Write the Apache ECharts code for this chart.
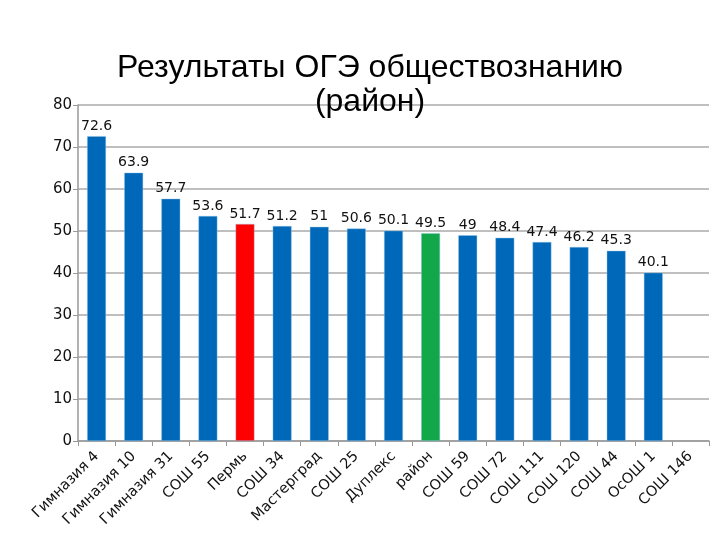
<!DOCTYPE html>
<html>
<head>
<meta charset="utf-8">
<script src="https://cdn.jsdelivr.net/npm/echarts@6/dist/echarts.min.js"></script>
<style>
  html, body { margin: 0; padding: 0; background: #fff; }
  #main { width: 720px; height: 540px; }
</style>
</head>
<body>
<div id="main"></div>
<script>
// данные диаграммы
const schools = ['Гимназия 4', 'Гимназия 10', 'Гимназия 31', 'СОШ 55', 'Пермь', 'СОШ 34', 'Мастерград',
  'СОШ 25', 'Дуплекс', 'район', 'СОШ 59', 'СОШ 72', 'СОШ 111', 'СОШ 120', 'СОШ 44', 'ОсОШ 1', 'СОШ 146']
const scores = [72.6, 63.9, 57.7, 53.6, 51.7, 51.2, 51, 50.6, 50.1, 49.5, 49, 48.4, 47.4, 46.2, 45.3, 40.1, null]
const yTicks = [0, 10, 20, 30, 40, 50, 60, 70, 80]

// цвета: Пермь красным, район зелёным
const colorOf = name => name === 'Пермь' ? '#FF0000' : name === 'район' ? '#12A84A' : '#0068B8'

const myChart = echarts.init(document.getElementById('main'))

const option = {
  animation: false,
  title: {
    text: 'Результаты ОГЭ обществознанию\n(район)',
    left: 365,
    top: 46,
    textAlign: 'center',
    textStyle: { fontFamily: 'Liberation Sans', fontSize: 32, fontWeight: 'normal', color: '#000', lineHeight: 34 }
  },
  grid: { left: 78, right: 11, top: 105, bottom: 99 },
  xAxis: {
    type: 'category',
    data: schools,
    axisLine: { lineStyle: { color: '#999', width: 1.5 } },
    axisTick: { show: true, alignWithLabel: false, lineStyle: { color: '#999' } },
    axisLabel: {
      interval: 0, rotate: 45, fontFamily: 'DejaVu Sans', fontSize: 14.5, color: '#111', margin: 13
    }
  },
  yAxis: {
    type: 'value',
    min: yTicks[0],
    max: yTicks[yTicks.length - 1],
    interval: 10,
    axisLine: { show: true, lineStyle: { color: '#999', width: 1.5 } },
    axisTick: { show: true, lineStyle: { color: '#999' } },
    axisLabel: { fontFamily: 'DejaVu Sans', fontSize: 15, color: '#111', margin: 6 },
    splitLine: { lineStyle: { color: '#aaa', width: 1.5 } }
  },
  series: [{
    type: 'bar',
    barWidth: 19,
    data: scores.map((v, i) => ({
      value: v,
      itemStyle: { color: colorOf(schools[i]), borderColor: 'rgba(150,200,235,0.7)', borderWidth: 0.6 }
    })),
    label: {
      show: true,
      position: 'top',
      distance: 3,
      fontFamily: 'DejaVu Sans',
      fontSize: 14,
      color: '#111'
    }
  }]
}

option && myChart.setOption(option)
</script>
</body>
</html>
